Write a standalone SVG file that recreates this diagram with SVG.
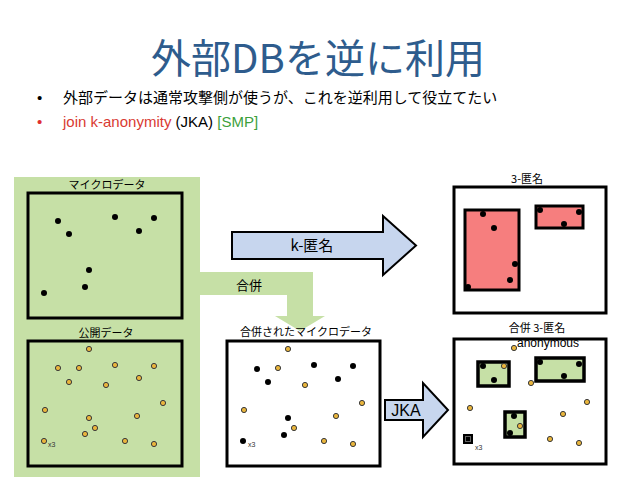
<svg xmlns="http://www.w3.org/2000/svg" width="638" height="479" viewBox="0 0 638 479">
<style>
.jp{font-family:"Noto Sans CJK JP","Liberation Sans",sans-serif}
.lab{font-family:"Noto Sans CJK JP","Liberation Sans",sans-serif;font-size:11px;fill:#000;text-anchor:middle}
.box{fill:none;stroke:#000;stroke-width:3}
.wbox{fill:#fff;stroke:#000;stroke-width:3}
.b{fill:#000}
.o{fill:#E9B53C;stroke:#3a3a3a;stroke-width:1}
.red{fill:#F67E7E;stroke:#000;stroke-width:3}
.grn{fill:#C6E0A6;stroke:#000;stroke-width:3.5}
.sm{font-family:"Liberation Sans",sans-serif;font-size:7px;fill:#333}
.blk{fill:#C7D6EE;stroke:#000;stroke-width:2}
</style>
<rect width="638" height="479" fill="#fff"/>
<g id="title">
<text x="318" y="73" class="jp" font-size="40" fill="#2E5C8D" text-anchor="middle">外部DBを逆に利用</text>
</g>
<g id="bullets">
<text x="37" y="103" font-family="Liberation Sans,sans-serif" font-size="15" fill="#000">•</text>
<text x="63" y="103" class="jp" font-size="15" fill="#000">外部データは通常攻撃側が使うが、これを逆利用して役立てたい</text>
<text x="37" y="127" font-family="Liberation Sans,sans-serif" font-size="15" fill="#E03030">•</text>
<text x="63" y="127" font-family="Liberation Sans,sans-serif" font-size="15"><tspan fill="#D93A32">join k-anonymity</tspan><tspan fill="#000"> (JKA) </tspan><tspan fill="#3C9F3C">[SMP]</tspan></text>
</g>
<g id="source-panel">
<rect x="14" y="177" width="186" height="300" fill="#C6E0A6"/>
</g>
<g id="microdata">
<text x="107" y="189" class="lab">マイクロデータ</text>
<rect x="28" y="193" width="154" height="125" class="box"/>
<circle class="b" cx="58" cy="221" r="3"/><circle class="b" cx="69" cy="234" r="3"/><circle class="b" cx="115" cy="217" r="3"/><circle class="b" cx="154" cy="218" r="3"/><circle class="b" cx="139" cy="231" r="3"/><circle class="b" cx="89" cy="270" r="3"/><circle class="b" cx="85" cy="287" r="3"/><circle class="b" cx="44" cy="293" r="3"/>
</g>
<g id="public-data">
<text x="106" y="337" class="lab">公開データ</text>
<rect x="28" y="341" width="154" height="125" class="box"/>
<circle class="o" cx="89" cy="349" r="2.6"/><circle class="o" cx="58" cy="368" r="2.6"/><circle class="o" cx="79" cy="368" r="2.6"/><circle class="o" cx="115" cy="365" r="2.6"/><circle class="o" cx="154" cy="366" r="2.6"/><circle class="o" cx="69" cy="382" r="2.6"/><circle class="o" cx="106" cy="385" r="2.6"/><circle class="o" cx="139" cy="378" r="2.6"/><circle class="o" cx="45" cy="410" r="2.6"/><circle class="o" cx="163" cy="403" r="2.6"/><circle class="o" cx="89" cy="418" r="2.6"/><circle class="o" cx="137" cy="416" r="2.6"/><circle class="o" cx="95" cy="428" r="2.6"/><circle class="o" cx="85" cy="434" r="2.6"/><circle class="o" cx="44" cy="441" r="2.6"/><circle class="o" cx="125" cy="441" r="2.6"/><circle class="o" cx="154" cy="444" r="2.6"/>
<text x="48" y="447" class="sm">x3</text>
</g>
<g id="connectors">
<g id="k-anon-arrow">
<polygon class="blk" points="232,232 383,232 383,216 416,245.5 383,275 383,259 232,259"/>
<text x="312" y="251" class="jp" font-size="15" text-anchor="middle">k-匿名</text>
</g>
<g id="merge-arrow">
<polygon fill="#C6E0A6" points="200,272 313,272 313,316 325,316 300,331 275,316 287,316 287,295 200,295"/>
<text x="249" y="290" class="jp" font-size="13" text-anchor="middle">合併</text>
</g>
<g id="jka-arrow">
<polygon class="blk" points="385,400 423,400 423,383 448,410 423,437 423,420 385,420"/>
<text x="406" y="416" font-family="Liberation Sans,sans-serif" font-size="16" text-anchor="middle">JKA</text>
</g>
</g>
<g id="merged-microdata">
<text x="306" y="336" class="lab">合併されたマイクロデータ</text>
<rect x="227" y="341" width="153" height="125" class="wbox"/>
<circle class="o" cx="288" cy="349" r="2.6"/><circle class="o" cx="278" cy="368" r="2.6"/><circle class="o" cx="305" cy="385" r="2.6"/><circle class="o" cx="244" cy="410" r="2.6"/><circle class="o" cx="362" cy="403" r="2.6"/><circle class="o" cx="336" cy="416" r="2.6"/><circle class="o" cx="294" cy="428" r="2.6"/><circle class="o" cx="324" cy="441" r="2.6"/><circle class="o" cx="353" cy="444" r="2.6"/>
<circle class="b" cx="257" cy="369" r="3"/><circle class="b" cx="268" cy="382" r="3"/><circle class="b" cx="314" cy="365" r="3"/><circle class="b" cx="353" cy="366" r="3"/><circle class="b" cx="338" cy="379" r="3"/><circle class="b" cx="288" cy="418" r="3"/><circle class="b" cx="284" cy="435" r="3"/><circle class="b" cx="243" cy="441" r="3"/>
<text x="248" y="447" class="sm">x3</text>
</g>
<g id="three-anonymous">
<text x="527" y="183" class="lab">3-匿名</text>
<rect x="454" y="187" width="152" height="126" class="wbox"/>
<rect x="465" y="210" width="54" height="80" class="red"/>
<rect x="536" y="206" width="47" height="22" class="red"/>
<circle class="b" cx="483" cy="214" r="3"/><circle class="b" cx="494" cy="228" r="3"/><circle class="b" cx="515" cy="264" r="3"/><circle class="b" cx="510" cy="280" r="3"/><circle class="b" cx="468" cy="287" r="3"/><circle class="b" cx="540" cy="210" r="3"/><circle class="b" cx="579" cy="212" r="3"/><circle class="b" cx="564" cy="224" r="3"/>
</g>
<g id="join-three-anonymous">
<text x="537" y="332" class="lab">合併 3-匿名</text>
<rect x="454" y="339" width="152" height="125" class="wbox"/>
<rect x="478" y="362" width="31" height="24" class="grn"/>
<rect x="536" y="358" width="48" height="23" class="grn"/>
<rect x="505" y="412" width="20" height="25" class="grn"/>
<circle class="b" cx="483" cy="366" r="3"/><circle class="b" cx="494" cy="380" r="3"/><circle class="b" cx="540" cy="362" r="3"/><circle class="b" cx="579" cy="364" r="3"/><circle class="b" cx="564" cy="376" r="3"/><circle class="b" cx="514" cy="416" r="3"/><circle class="b" cx="510" cy="433" r="3"/>
<circle class="o" cx="504" cy="366" r="2.6"/><circle class="o" cx="514" cy="348" r="2.6"/><circle class="o" cx="531" cy="383" r="2.6"/><circle class="o" cx="470" cy="408" r="2.6"/><circle class="o" cx="587" cy="402" r="2.6"/><circle class="o" cx="563" cy="414" r="2.6"/><circle class="o" cx="520" cy="426" r="2.6"/><circle class="o" cx="550" cy="439" r="2.6"/><circle class="o" cx="579" cy="443" r="2.6"/>
<rect x="463" y="434" width="10" height="10" fill="#000"/>
<rect x="465.5" y="436.5" width="5" height="5" fill="none" stroke="#fff" stroke-width="0.8" stroke-dasharray="1,1"/>
<text x="475" y="450" class="sm">x3</text>
<text x="517" y="347" font-family="Liberation Sans,sans-serif" font-size="12" fill="#000">anonymous</text>
</g>
</svg>
